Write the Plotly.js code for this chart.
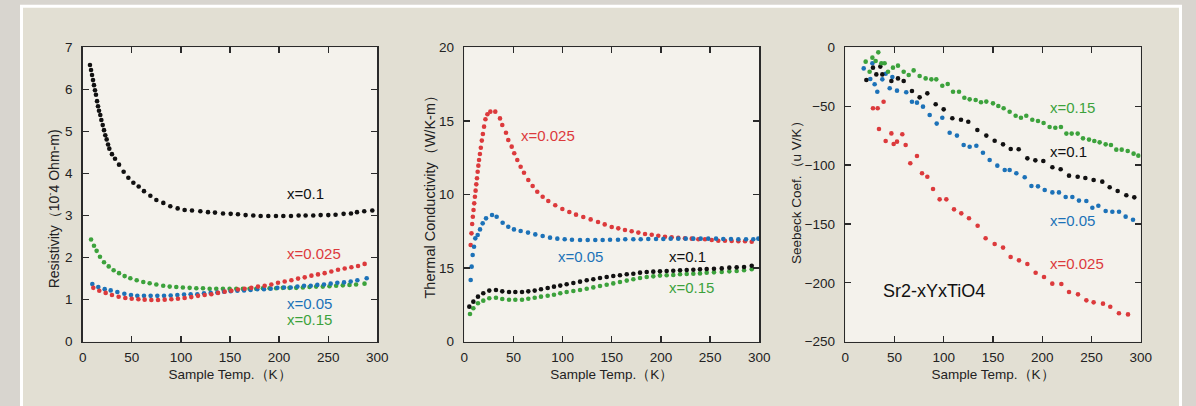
<!DOCTYPE html>
<html>
<head>
<meta charset="utf-8">
<script src="https://cdn.plot.ly/plotly-3.0.1.min.js"></script>
<style>
html,body{margin:0;padding:0;background:#d8d5cf;}
#chart{width:1196px;height:406px;}
</style>
</head>
<body>
<div id="chart"></div>
<script>
// ---------- Panel 1: Resistivity (10^-4 Ohm-m) ----------
const rhoT_010 = [7.4,8.5,9.5,10.5,11.5,12.5,13.5,14.6,15.6,16.6,17.9,19.0,20.4,21.7,23.0,24.4,25.8,27.1,29.8,32.9,37.0,41.7,46.5,51.6,57.0,62.4,68.9,75.0,82.1,89.2,96.7,103.8,111.3,119.8,127.6,134.7,142.9,150.7,158.1,165.9,173.7,181.2,189.0,196.8,204.3,212.1,219.9,227.0,234.8,242.3,250.1,257.5,265.7,273.2,279.3,286.7,294.9];
const rho_010 = [6.58,6.46,6.34,6.22,6.10,5.98,5.87,5.72,5.60,5.49,5.39,5.27,5.15,5.03,4.91,4.81,4.69,4.59,4.46,4.35,4.21,4.04,3.90,3.78,3.69,3.58,3.47,3.37,3.30,3.22,3.17,3.13,3.12,3.10,3.08,3.07,3.05,3.04,3.03,3.01,3.00,2.99,2.99,2.99,2.99,2.99,3.00,3.00,3.00,3.01,3.01,3.02,3.04,3.05,3.08,3.10,3.12];
const rhoT_0025 = [10.8,16.9,23.4,29.8,36.6,43.4,49.9,56.7,63.1,69.9,76.7,83.5,90.3,97.0,103.8,110.6,117.4,124.2,131.0,137.8,144.6,151.4,158.1,164.9,171.7,178.5,185.3,192.1,198.9,205.7,212.5,219.3,226.1,232.9,239.6,246.4,253.2,260.0,266.8,273.6,280.4,287.1];
const rho_0025 = [1.28,1.21,1.16,1.11,1.07,1.04,1.02,1.01,1.00,0.99,0.99,1.00,1.01,1.02,1.04,1.06,1.09,1.11,1.13,1.16,1.19,1.21,1.24,1.26,1.28,1.31,1.33,1.36,1.40,1.43,1.46,1.50,1.53,1.57,1.60,1.63,1.67,1.71,1.74,1.77,1.80,1.85];
const rhoT_005 = [9.8,15.9,22.4,28.5,35.3,42.4,49.2,55.6,62.4,69.2,76.0,82.8,89.6,96.4,103.2,109.9,116.7,123.5,130.3,137.1,143.9,150.7,157.5,164.3,171.0,177.8,184.6,191.4,198.2,205.0,211.8,218.6,225.4,232.2,238.9,245.7,252.5,259.3,266.1,272.9,279.7,289.2];
const rho_005 = [1.37,1.30,1.25,1.22,1.18,1.14,1.11,1.09,1.09,1.09,1.09,1.09,1.10,1.11,1.12,1.13,1.13,1.15,1.16,1.17,1.19,1.20,1.21,1.22,1.23,1.25,1.25,1.26,1.28,1.29,1.29,1.31,1.33,1.33,1.35,1.36,1.38,1.40,1.41,1.43,1.46,1.51];
const rhoT_015 = [8.5,11.5,14.2,17.6,21.7,26.5,31.5,37.0,42.7,48.5,55.0,61.7,68.2,75.0,82.0,88.6,95.3,102.0,108.9,115.7,122.5,129.3,136.0,142.8,149.6,156.4,163.1,169.9,176.7,183.5,190.3,197.0,203.8,210.6,217.4,224.2,231.0,237.7,244.5,251.3,258.1,264.9,271.7,278.4,287.0];
const rho_015 = [2.43,2.28,2.16,2.02,1.89,1.79,1.70,1.63,1.56,1.51,1.46,1.42,1.39,1.36,1.33,1.31,1.30,1.29,1.28,1.27,1.27,1.26,1.26,1.26,1.26,1.26,1.26,1.26,1.26,1.27,1.27,1.27,1.28,1.28,1.28,1.29,1.30,1.31,1.31,1.32,1.33,1.34,1.35,1.36,1.38];

// ---------- Panel 2: Thermal conductivity (W/K-m) ----------
const kT_0025 = [6.5,7.3,8.0,8.7,9.4,10.1,10.8,11.5,12.2,12.9,13.6,14.3,15.0,15.9,16.8,17.8,18.9,20.1,21.5,23.5,26.5,31.5,36.3,38.6,42.4,44.7,48.2,50.8,53.9,57.3,60.7,65.1,69.5,74.2,79.7,85.4,92.5,99.7,106.8,113.6,121.0,128.5,136.0,142.8,149.9,156.6,163.4,170.2,177.0,183.8,190.6,197.3,204.1,210.9,217.6,224.4,231.3,238.0,244.8,251.6,258.3,265.1,271.9,278.7,285.5,292.3];
const k_0025 = [6.57,7.36,8.00,8.49,8.95,9.40,9.85,10.26,10.69,11.10,11.55,11.96,12.34,12.75,13.18,13.66,14.11,14.61,15.11,15.45,15.63,15.63,15.17,14.72,14.20,13.70,13.25,12.80,12.34,11.89,11.48,10.99,10.58,10.19,9.85,9.56,9.27,9.01,8.81,8.63,8.47,8.31,8.13,7.97,7.79,7.70,7.59,7.50,7.41,7.32,7.27,7.20,7.13,7.09,7.05,7.02,7.00,6.96,6.96,6.91,6.86,6.86,6.84,6.82,6.82,6.79];
const kT_005 = [6.5,7.5,8.5,9.9,11.2,13.6,16.0,18.7,22.1,28.2,32.9,39.0,44.7,50.5,57.3,64.8,72.2,79.7,87.2,94.6,102.1,109.5,117.7,125.5,133.2,140.7,148.2,156.3,163.7,171.9,179.4,187.1,195.0,202.4,209.9,217.6,225.2,232.9,240.4,248.1,256.0,263.4,271.2,278.7,286.5,293.9,299.0];
const k_005 = [4.19,5.10,5.89,6.45,7.02,7.25,7.63,8.04,8.38,8.61,8.49,8.08,7.81,7.63,7.52,7.41,7.29,7.18,7.07,7.00,6.96,6.93,6.91,6.91,6.91,6.91,6.93,6.93,6.96,6.96,6.96,6.98,6.98,6.98,7.00,7.00,7.00,7.00,7.00,7.00,7.00,6.98,6.98,6.96,6.96,6.96,7.00];
const kT_010 = [5.1,9.2,13.9,19.3,25.4,32.2,38.6,45.5,51.9,58.7,65.1,71.6,78.0,84.8,91.2,97.6,104.1,110.9,117.7,124.5,131.2,138.0,144.8,151.5,158.3,165.2,171.9,178.7,185.5,192.2,199.0,205.8,212.5,219.4,226.2,232.9,239.7,246.5,253.9,261.8,269.5,277.0,284.5,292.3];
const k_010 = [2.38,2.72,3.06,3.29,3.47,3.51,3.42,3.38,3.38,3.38,3.42,3.47,3.56,3.65,3.74,3.81,3.90,3.99,4.08,4.17,4.24,4.33,4.40,4.46,4.51,4.58,4.62,4.69,4.73,4.76,4.78,4.80,4.82,4.85,4.87,4.89,4.92,4.94,4.96,4.98,5.03,5.05,5.07,5.16];
const kT_015 = [5.8,9.2,13.9,19.3,25.4,32.2,38.6,45.5,51.9,58.7,65.1,71.6,78.0,84.8,91.2,97.6,104.1,110.9,117.7,124.5,131.2,138.0,144.8,151.5,158.3,165.2,171.9,178.7,185.5,192.2,199.0,205.8,212.5,219.4,226.2,232.9,239.7,246.5,253.9,261.8,269.5,277.0,284.5,292.3];
const k_015 = [1.88,2.27,2.61,2.79,2.95,2.99,2.90,2.85,2.85,2.85,2.92,2.99,3.06,3.12,3.19,3.29,3.38,3.44,3.51,3.60,3.69,3.78,3.87,3.96,4.06,4.15,4.24,4.33,4.40,4.44,4.49,4.51,4.53,4.58,4.60,4.62,4.64,4.69,4.71,4.73,4.78,4.80,4.85,4.92];
const kTickVals = [0,5,10,15,20];
const kTickText = ['0','15','10','15','20'];

// ---------- Panel 3: Seebeck coefficient (uV/K) ----------
const sT_015 = [20.7,24.7,27.5,30.8,33.5,36.6,39.9,43.4,48.4,53.5,59.3,64.4,69.4,75.5,81.6,87.4,92.4,98.5,104.0,109.4,115.5,120.9,126.3,132.4,137.8,143.2,150.0,155.4,160.8,166.9,173.0,178.4,183.8,189.9,195.7,201.4,207.5,213.3,219.0,224.5,229.9,236.0,241.4,247.5,252.9,258.3,264.4,269.8,275.2,280.7,286.8,292.8,297.6];
const s_015 = [-12.2,-20.7,-8.8,-11.6,-4.3,-13.6,-13.6,-20.7,-17.3,-15.6,-20.7,-23.5,-19.6,-24.4,-26.4,-27.2,-27.2,-32.6,-31.2,-37.7,-37.7,-42.8,-44.2,-44.8,-46.7,-46.1,-47.6,-49.8,-51.8,-54.7,-58.1,-59.8,-58.1,-61.5,-62.6,-64.3,-67.7,-68.3,-67.7,-73.3,-73.3,-73.3,-77.3,-78.4,-79.6,-80.7,-82.4,-83.0,-86.9,-86.9,-88.1,-90.3,-92.0];
const sT_010 = [21.4,28.1,31.5,35.6,37.6,46.8,53.5,59.3,67.7,75.5,83.3,91.8,99.9,108.7,117.5,124.9,134.1,143.2,151.7,160.2,168.0,176.1,184.9,193.0,201.1,210.3,218.7,227.2,236.0,243.8,252.2,261.0,268.5,276.6,285.4,293.5];
const s_010 = [-27.8,-17.3,-23.0,-16.4,-23.0,-28.6,-26.4,-28.6,-37.1,-42.5,-39.1,-48.4,-52.7,-60.3,-61.5,-63.2,-70.2,-75.0,-79.3,-82.4,-86.4,-86.6,-94.3,-96.0,-96.6,-101.9,-103.6,-109.0,-109.9,-111.0,-112.7,-114.1,-118.9,-122.0,-125.7,-127.4];
const sT_005 = [18.7,25.4,27.5,29.8,32.5,37.6,41.0,45.1,47.8,52.5,61.9,67.7,72.8,78.9,85.7,92.8,98.5,106.0,113.4,120.2,126.3,133.1,139.8,146.6,154.4,161.9,166.9,173.7,182.2,189.0,195.7,202.5,210.3,217.0,223.8,230.6,237.3,244.8,250.9,257.0,264.4,271.2,278.0,284.7,292.2];
const s_005 = [-17.9,-26.9,-13.6,-31.4,-37.7,-27.2,-22.4,-34.8,-25.2,-36.8,-38.2,-46.2,-47.0,-50.4,-57.5,-64.8,-59.8,-72.5,-75.0,-83.0,-84.4,-83.6,-89.5,-95.7,-100.5,-104.2,-104.2,-107.0,-110.4,-117.8,-118.1,-121.2,-123.2,-123.2,-127.1,-127.1,-130.2,-130.5,-136.2,-134.5,-139.0,-139.6,-139.6,-143.8,-146.4];
const sT_0025 = [28.1,32.9,34.2,38.9,41.0,46.8,49.1,52.5,57.9,61.3,66.0,72.8,77.9,83.3,89.1,95.8,102.6,110.4,117.8,125.6,134.4,142.5,151.7,160.2,167.9,176.4,184.9,193.3,201.8,210.2,219.4,227.2,236.3,244.8,252.2,261.7,269.1,277.9,287.1];
const s_0025 = [-51.8,-51.8,-69.4,-46.2,-79.6,-73.1,-82.1,-80.1,-73.9,-83.0,-98.5,-92.3,-107.0,-109.9,-120.3,-129.1,-129.1,-137.6,-141.0,-145.2,-151.5,-162.2,-167.0,-170.1,-178.1,-180.9,-184.0,-191.4,-195.1,-200.7,-201.0,-207.8,-209.8,-214.9,-216.6,-217.7,-220.3,-225.9,-226.8];

// ---------- Text ----------
const xTitle = 'Sample Temp.（K）';
const yTitles = ['Resistivity（10<sup>-</sup>4 Ohm-m)', 'Thermal Conductivity（W/K-m）', 'Seebeck Coef.（u V/K）'];
const seriesNames = ['x=0.025', 'x=0.05', 'x=0.1', 'x=0.15'];
const materialLabel = 'Sr2-xYxTiO4';

// ---------- Styles ----------
const C = {red:'#dc3a3c', blue:'#1c72b8', black:'#111111', green:'#3ca23c'};
const FONT = 'Liberation Sans, Arial, Helvetica, sans-serif';
const MS = 4.6;

function pts(x, y, color, xa, ya, name) {
  return {x:x, y:y, type:'scatter', mode:'markers', name:name, xaxis:xa, yaxis:ya,
          marker:{color:color, size:MS, line:{width:0}}, showlegend:false, hoverinfo:'skip'};
}

const data = [
  pts(rhoT_010, rho_010, C.black, 'x', 'y', 'x=0.1'),
  pts(rhoT_015, rho_015, C.green, 'x', 'y', 'x=0.15'),
  pts(rhoT_005, rho_005, C.blue, 'x', 'y', 'x=0.05'),
  pts(rhoT_0025, rho_0025, C.red, 'x', 'y', 'x=0.025'),

  pts(kT_0025, k_0025, C.red, 'x2', 'y2', 'x=0.025'),
  pts(kT_005, k_005, C.blue, 'x2', 'y2', 'x=0.05'),
  pts(kT_015, k_015, C.green, 'x2', 'y2', 'x=0.15'),
  pts(kT_010, k_010, C.black, 'x2', 'y2', 'x=0.1'),

  pts(sT_0025, s_0025, C.red, 'x3', 'y3', 'x=0.025'),
  pts(sT_005, s_005, C.blue, 'x3', 'y3', 'x=0.05'),
  pts(sT_010, s_010, C.black, 'x3', 'y3', 'x=0.1'),
  pts(sT_015, s_015, C.green, 'x3', 'y3', 'x=0.15')
];

const W = 1196, H = 406;
const yDom = [1 - 341.7/H, 1 - 47.3/H];
const xDoms = [[82.7/W, 377.3/W], [464.3/W, 759.3/W], [845.3/W, 1140.7/W]];
const TICKFONT = {family:FONT, size:13.5, color:'#222'};

function xAxis(dom, anchor) {
  return {domain:dom, anchor:anchor, range:[0,300], dtick:50, tick0:0,
    showline:true, mirror:'ticks', linecolor:'#2a2a2a', linewidth:1.5,
    ticks:'inside', ticklen:6, tickwidth:1.3, tickcolor:'#2a2a2a',
    showgrid:false, zeroline:false, ticklabelstandoff:3,
    tickfont:TICKFONT,
    title:{text:xTitle, font:{family:FONT, size:13.5, color:'#222'}, standoff:5}};
}
function yAxis(anchor, range, dtick) {
  return {domain:yDom, anchor:anchor, range:range, dtick:dtick,
    showline:true, mirror:'ticks', linecolor:'#2a2a2a', linewidth:1.5,
    ticks:'inside', ticklen:6, tickwidth:1.3, tickcolor:'#2a2a2a',
    showgrid:false, zeroline:false, ticklabelstandoff:6,
    tickfont:TICKFONT};
}

const y2 = yAxis('x2', [0,20], 5);
y2.tickmode = 'array'; y2.tickvals = kTickVals; y2.ticktext = kTickText;

function lab(text, xref, yref, x, y, color, size) {
  return {text:text, xref:xref, yref:yref, x:x, y:y, xanchor:'left', yanchor:'middle',
          showarrow:false, font:{family:FONT, size:size||15, color:color}};
}
function ytitle(text, xpx, ypx, size) {
  return {text:text, xref:'paper', yref:'paper', x:xpx/W, y:1 - ypx/H, xanchor:'center', yanchor:'middle',
          textangle:-90, showarrow:false, font:{family:FONT, size:size, color:'#222'}};
}

const layout = {
  width:W, height:H, margin:{l:0, r:0, t:0, b:0},
  paper_bgcolor:'#d8d5cf', plot_bgcolor:'rgba(0,0,0,0)',
  font:{family:FONT, color:'#222'},
  xaxis: xAxis(xDoms[0], 'y'),
  yaxis: yAxis('x', [0,7], 1),
  xaxis2: xAxis(xDoms[1], 'y2'),
  yaxis2: y2,
  xaxis3: xAxis(xDoms[2], 'y3'),
  yaxis3: yAxis('x3', [-250,0], 50),
  shapes: [
    {type:'rect', xref:'paper', yref:'paper', x0:21.5/W, x1:1180.5/W, y0:-0.05, y1:1-6.2/H,
     line:{color:'#ffffff', width:3}, fillcolor:'#e2dfd3', layer:'below'},
    {type:'rect', xref:'x domain', yref:'y domain', x0:0, x1:1, y0:0, y1:1, line:{width:0}, fillcolor:'#f4f2ec', layer:'below'},
    {type:'rect', xref:'x2 domain', yref:'y2 domain', x0:0, x1:1, y0:0, y1:1, line:{width:0}, fillcolor:'#f4f2ec', layer:'below'},
    {type:'rect', xref:'x3 domain', yref:'y3 domain', x0:0, x1:1, y0:0, y1:1, line:{width:0}, fillcolor:'#f4f2ec', layer:'below'}
  ],
  annotations: [
    ytitle(yTitles[0], 53.3, 209, 14),
    ytitle(yTitles[1], 430, 193.5, 14.5),
    ytitle(yTitles[2], 797, 189, 13.5),

    lab(seriesNames[2], 'x', 'y', 206, 3.53, C.black),
    lab(seriesNames[0], 'x', 'y', 206, 2.09, C.red),
    lab(seriesNames[1], 'x', 'y', 206, 0.91, C.blue),
    lab(seriesNames[3], 'x', 'y', 206, 0.52, C.green),

    lab(seriesNames[0], 'x2', 'y2', 56, 14.04, C.red),
    lab(seriesNames[1], 'x2', 'y2', 93, 5.82, C.blue),
    lab(seriesNames[2], 'x2', 'y2', 205.8, 5.82, C.black),
    lab(seriesNames[3], 'x2', 'y2', 205.8, 3.69, C.green),

    lab(seriesNames[3], 'x3', 'y3', 205.5, -51.3, C.green),
    lab(seriesNames[2], 'x3', 'y3', 205.5, -88.7, C.black),
    lab(seriesNames[1], 'x3', 'y3', 205.5, -146.7, C.blue),
    lab(seriesNames[0], 'x3', 'y3', 205.5, -183.4, C.red),
    lab(materialLabel, 'x3', 'y3', 36.3, -206.7, '#111', 18)
  ]
};

Plotly.newPlot('chart', data, layout, {displayModeBar:false, staticPlot:true});
</script>
</body>
</html>
